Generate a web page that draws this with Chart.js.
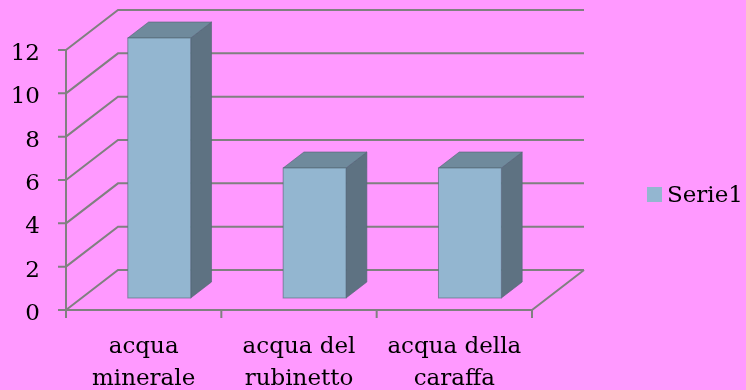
<!DOCTYPE html>
<html>
<head>
<meta charset="utf-8">
<script src="https://cdn.jsdelivr.net/npm/chart.js@4/dist/chart.umd.min.js"></script>
<style>
  html, body { margin: 0; padding: 0; background: #ff99ff; }
  #wrap { width: 746px; height: 390px; }
</style>
</head>
<body>
<div id="wrap"><canvas id="chart"></canvas></div>
<script>
const categories = [['acqua', 'minerale'], ['acqua del', 'rubinetto'], ['acqua della', 'caraffa']];
const serieName = 'Serie1';
const serieValues = [12, 6, 6];
const yTicks = [0, 2, 4, 6, 8, 10, 12];

const FONT = '"DejaVu Serif", "Liberation Serif", serif';
const lineColor = '#808080';
const frontColor = '#93b6d0';
const topColor = '#6f8a9c';
const sideColor = '#5e7282';
// oblique depth of the floor / walls
const depthX = 52, depthY = -40;

const ctx = document.getElementById('chart');

const box3d = {
    id: 'box3d',
    beforeDatasetsDraw(chart) {
        const c = chart.ctx;
        const xs = chart.scales.x;
        const ys = chart.scales.y;
        const left = xs.left, right = xs.right;
        const bottom = ys.getPixelForValue(0);
        c.save();
        c.strokeStyle = lineColor;
        c.lineWidth = 2;
        c.beginPath();
        yTicks.forEach(v => {
            const py = ys.getPixelForValue(v);
            // side wall diagonal
            c.moveTo(left, py);
            c.lineTo(left + depthX, py + depthY);
            // back wall line
            c.lineTo(right + depthX, py + depthY);
            // tick on the front axis
            c.moveTo(left - 8, py);
            c.lineTo(left, py);
        });
        // front y axis
        c.moveTo(left, ys.getPixelForValue(yTicks[yTicks.length - 1]));
        c.lineTo(left, bottom);
        // front floor edge + right floor edge
        c.lineTo(right, bottom);
        c.lineTo(right + depthX, bottom + depthY);
        // category ticks
        for (let i = 0; i <= categories.length; i++) {
            const px = left + i * (right - left) / categories.length;
            c.moveTo(px, bottom);
            c.lineTo(px, bottom + 8);
        }
        c.stroke();
        c.restore();
    },
    beforeDatasetDraw() {
        return false;
    },
    afterDatasetsDraw(chart) {
        const c = chart.ctx;
        const meta = chart.getDatasetMeta(0);
        const fx = depthX * 0.3, fy = depthY * 0.3;
        const bx = depthX * 0.4, by = depthY * 0.4;
        c.save();
        c.lineWidth = 1;
        meta.data.forEach(bar => {
            const p = bar.getProps(['x', 'y', 'base', 'width'], true);
            const x0 = p.x - p.width / 2 + fx;
            const x1 = p.x + p.width / 2 + fx;
            const y0 = p.y + fy;
            const y1 = p.base + fy;
            // side
            c.fillStyle = sideColor;
            c.beginPath();
            c.moveTo(x1, y0);
            c.lineTo(x1 + bx, y0 + by);
            c.lineTo(x1 + bx, y1 + by);
            c.lineTo(x1, y1);
            c.closePath();
            c.fill();
            c.strokeStyle = 'rgba(80,100,115,0.6)';
            c.stroke();
            // top
            c.fillStyle = topColor;
            c.beginPath();
            c.moveTo(x0, y0);
            c.lineTo(x0 + bx, y0 + by);
            c.lineTo(x1 + bx, y0 + by);
            c.lineTo(x1, y0);
            c.closePath();
            c.fill();
            c.stroke();
            // front
            c.fillStyle = frontColor;
            c.fillRect(x0, y0, x1 - x0, y1 - y0);
            c.strokeRect(x0, y0, x1 - x0, y1 - y0);
        });
        c.restore();
    },
    afterDraw(chart) {
        // legend
        const c = chart.ctx;
        const ds = chart.data.datasets[0];
        c.save();
        c.fillStyle = ds.backgroundColor;
        c.fillRect(647, 187, 15, 15);
        c.fillStyle = '#000';
        c.font = '23px ' + FONT;
        c.textBaseline = 'middle';
        c.fillText(ds.label, 667, 196);
        c.restore();
    }
};

new Chart(ctx, {
    type: 'bar',
    data: {
        labels: categories,
        datasets: [{
            label: serieName,
            data: serieValues,
            backgroundColor: frontColor,
            categoryPercentage: 1,
            barPercentage: 0.405
        }]
    },
    options: {
        responsive: true,
        maintainAspectRatio: false,
        animation: false,
        layout: {
            padding: { left: 0, top: 50, right: 214, bottom: 0 }
        },
        plugins: {
            legend: { display: false },
            tooltip: { enabled: false }
        },
        scales: {
            x: {
                grid: { display: false, drawTicks: false },
                border: { display: false },
                ticks: {
                    color: '#000',
                    font: { family: FONT, size: 23, lineHeight: 1.35 },
                    padding: 22,
                    maxRotation: 0,
                    autoSkip: false
                },
                afterFit(scale) { scale.height = 80; }
            },
            y: {
                min: 0,
                max: 12,
                grid: { display: false, drawTicks: false },
                border: { display: false },
                ticks: {
                    stepSize: 2,
                    color: '#000',
                    font: { family: FONT, size: 23 },
                    padding: 26,
                    labelOffset: 4
                },
                afterFit(scale) { scale.width = 66; }
            }
        }
    },
    plugins: [box3d]
});
</script>
</body>
</html>
